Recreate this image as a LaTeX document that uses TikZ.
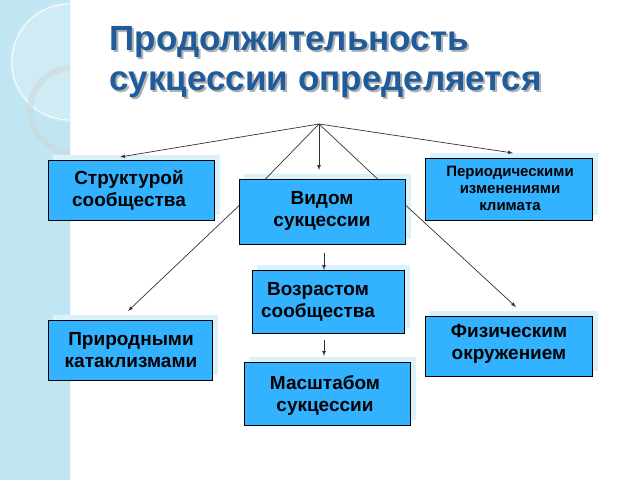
\documentclass[tikz,border=0pt]{standalone}
\usepackage{fontspec}
\setmainfont{Liberation Sans}
\begin{document}
\begin{tikzpicture}[x=1pt,y=-1pt,
  bx/.style={draw=black,fill=boxc,line width=0.8pt,inner sep=0pt},
  tx/.style={font=\bfseries\fontsize{19}{22}\selectfont,align=center},
  con/.style={draw=black!80,line width=0.7pt},
  arr/.style={con,-latex}]
\definecolor{boxc}{HTML}{33B3FF}
\definecolor{shd}{HTML}{DDF1FB}
\definecolor{strip}{HTML}{BFE6F2}
\definecolor{ttl}{HTML}{1F5C99}
\useasboundingbox (0,0) rectangle (640,480);
\fill[white] (0,0) rectangle (640,480);
\fill[strip] (0,0) rectangle (70,480);
\begin{scope}
\clip (0,0) rectangle (70,480);
\fill[white,opacity=0.25] (70,62) circle (60);
\draw[white,line width=0.8pt] (70,62) circle (58);
\draw[white!80!strip!70!gray,line width=6pt,opacity=0.5] (72,110) circle (42);
\end{scope}
\draw[white!70!strip,line width=0.6pt] (70,0)--(70,480);
\node[anchor=west,align=left,text=gray!60,font=\bfseries\fontsize{35}{40}\selectfont] at (108,64) {Продолжительность\\сукцессии определяется};
\node[anchor=west,align=left,text=ttl,font=\bfseries\fontsize{35}{40}\selectfont] (title) at (106,62) {Продолжительность\\сукцессии определяется};
% shadows
\foreach \a/\b/\c/\d in {53/155/220/215, 430/153/598/215, 244/174/411/239, 257/265/410/328, 53/315/218/375, 430/311/598/371, 249/357/416/420}
  \fill[shd] (\a,\b) rectangle (\c,\d);
\coordinate (apex) at (319,124);
\node[bx,minimum width=166pt,minimum height=60pt,anchor=north west] (s) at (48,160) {};
\node[bx,minimum width=167pt,minimum height=62pt,anchor=north west] (p) at (425,158) {};
\node[bx,minimum width=164pt,minimum height=60pt,anchor=north west] (pr) at (48,320) {};
\node[bx,minimum width=167pt,minimum height=60pt,anchor=north west] (f) at (425,316) {};
\coordinate (l1) at (245,200); \coordinate (r1) at (400,200);
\draw[con] (apex) -- (l1);
\draw[con] (apex) -- (r1);
\draw[arr] (l1) -- (128,311);
\draw[arr] (r1) -- (516,307);
\node[bx,minimum width=166pt,minimum height=65pt,anchor=north west] (v) at (239,179) {};
\node[bx,minimum width=152pt,minimum height=63pt,anchor=north west] (vz) at (252,270) {};
\node[bx,minimum width=166pt,minimum height=63pt,anchor=north west] (m) at (244,362) {};
\node[tx] at (129,190) {Структурой\\сообщества};
\node[font=\bfseries\fontsize{15}{17}\selectfont,align=center] at (510,188) {Периодическими\\изменениями\\климата};
\node[tx] at (322,211) {Видом\\сукцессии};
\node[tx] at (318,302) {Возрастом\\сообщества};
\node[tx] at (131,350) {Природными\\катаклизмами};
\node[tx] at (509,344) {Физическим\\окружением};
\node[tx] at (325,395) {Масштабом\\сукцессии};
\draw[arr] (apex) -- (120,157);
\draw[arr] (apex) -- (513,153);
\draw[arr] (apex) -- (319,170);
\coordinate (a1) at (324,253); \coordinate (a2) at (324,270);
\coordinate (b1) at (324,340); \coordinate (b2) at (324,356);
\draw[arr] (a1) -- (a2);
\draw[arr] (b1) -- (b2);
\end{tikzpicture}
\end{document}
